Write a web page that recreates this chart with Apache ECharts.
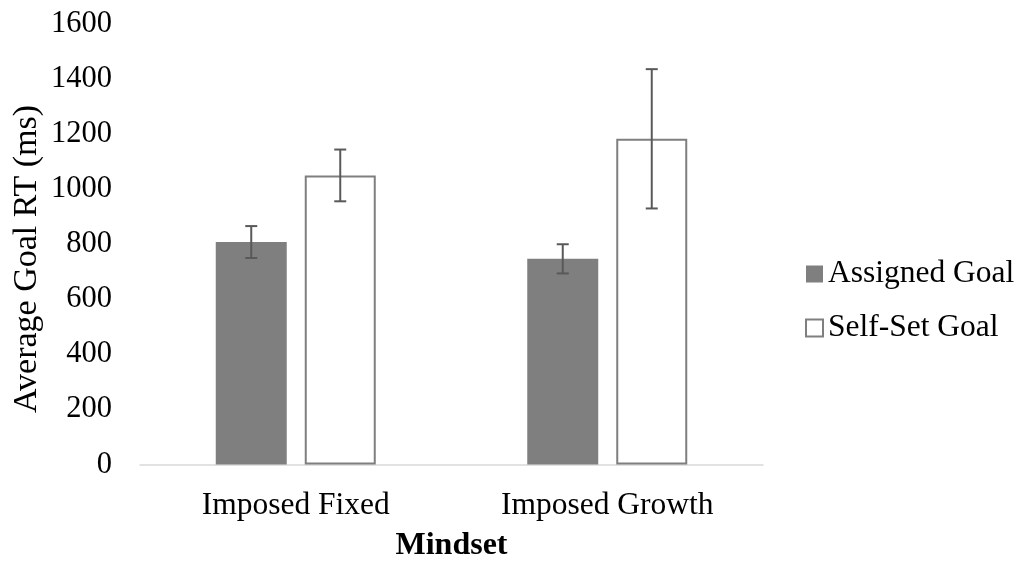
<!DOCTYPE html>
<html>
<head>
<meta charset="utf-8">
<script src="https://cdn.jsdelivr.net/npm/echarts@6/dist/echarts.min.js"></script>
<style>
html,body{margin:0;padding:0;background:#fff;}
#chart{width:1022px;height:561px;}
</style>
</head>
<body>
<div id="chart"></div>
<script>
var categories = ['Imposed Fixed', 'Imposed Growth'];
var seriesNames = ['Assigned Goal', 'Self-Set Goal'];
var assignedValues = [808, 747];
var selfSetValues = [1050, 1183];
var assignedErrors = [58, 53];
var selfSetErrors = [94, 253];
var yTicks = [0, 200, 400, 600, 800, 1000, 1200, 1400, 1600];

var FONT = '"Liberation Serif", "Times New Roman", serif';
var BAR_W = 71;
var BAR_GAP = 18;

function errData(vals, errs) {
  return vals.map(function (v, i) { return [i, v - errs[i], v + errs[i]]; });
}

function makeErrSeries(name, data, sign) {
  return {
    type: 'custom',
    name: name + ' err',
    silent: true,
    z: 10,
    data: data,
    renderItem: function (params, api) {
      var c = api.value(0);
      var lo = api.coord([c, api.value(1)]);
      var hi = api.coord([c, api.value(2)]);
      var x = lo[0] + sign * (BAR_W + BAR_GAP) / 2;
      var cap = 6;
      var st = { stroke: '#595959', lineWidth: 2 };
      return {
        type: 'group',
        children: [
          { type: 'line', shape: { x1: x, y1: lo[1], x2: x, y2: hi[1] }, style: st },
          { type: 'line', shape: { x1: x - cap, y1: lo[1], x2: x + cap, y2: lo[1] }, style: st },
          { type: 'line', shape: { x1: x - cap, y1: hi[1], x2: x + cap, y2: hi[1] }, style: st }
        ]
      };
    }
  };
}

var chart = echarts.init(document.getElementById('chart'));
chart.setOption({
  animation: false,
  backgroundColor: '#fff',
  textStyle: { fontFamily: FONT, color: '#000' },
  grid: { left: 140, right: 259, top: 24, bottom: 96.5, containLabel: false, outerBoundsMode: 'none' },
  legend: {
    orient: 'vertical',
    left: 800,
    top: 253,
    itemWidth: 17,
    itemHeight: 17,
    itemGap: 22,
    icon: 'rect',
    data: seriesNames,
    textStyle: { fontFamily: FONT, fontSize: 31.5, color: '#000' }
  },
  xAxis: {
    type: 'category',
    data: categories,
    axisTick: { show: false },
    axisLine: { lineStyle: { color: '#d9d9d9', width: 1.5 } },
    axisLabel: { fontFamily: FONT, fontSize: 31.5, color: '#000', margin: 25 },
    name: 'Mindset',
    nameLocation: 'middle',
    nameGap: 65,
    nameTextStyle: { fontFamily: FONT, fontSize: 32, fontWeight: 'bold', color: '#000' }
  },
  yAxis: {
    type: 'value',
    min: yTicks[0],
    max: yTicks[yTicks.length - 1],
    interval: yTicks[1] - yTicks[0],
    axisLine: { show: false },
    axisTick: { show: false },
    splitLine: { show: false },
    axisLabel: { fontFamily: FONT, fontSize: 30.5, color: '#000', margin: 28, formatter: function (v) { return String(v); } }
  },
  graphic: [{
    type: 'text',
    x: 27,
    y: 259,
    rotation: Math.PI / 2,
    style: {
      text: 'Average Goal RT (ms)',
      font: '34px ' + FONT,
      fill: '#000',
      textAlign: 'center',
      textVerticalAlign: 'middle'
    }
  }],
  series: [
    {
      type: 'bar',
      name: seriesNames[0],
      data: assignedValues,
      barWidth: BAR_W,
      barGap: (BAR_GAP / BAR_W * 100) + '%',
      itemStyle: { color: '#7f7f7f' }
    },
    {
      type: 'bar',
      name: seriesNames[1],
      data: selfSetValues,
      barWidth: BAR_W,
      itemStyle: { color: '#ffffff', borderColor: '#7f7f7f', borderWidth: 2 }
    },
    makeErrSeries(seriesNames[0], errData(assignedValues, assignedErrors), -1),
    makeErrSeries(seriesNames[1], errData(selfSetValues, selfSetErrors), 1)
  ]
});
</script>
</body>
</html>
